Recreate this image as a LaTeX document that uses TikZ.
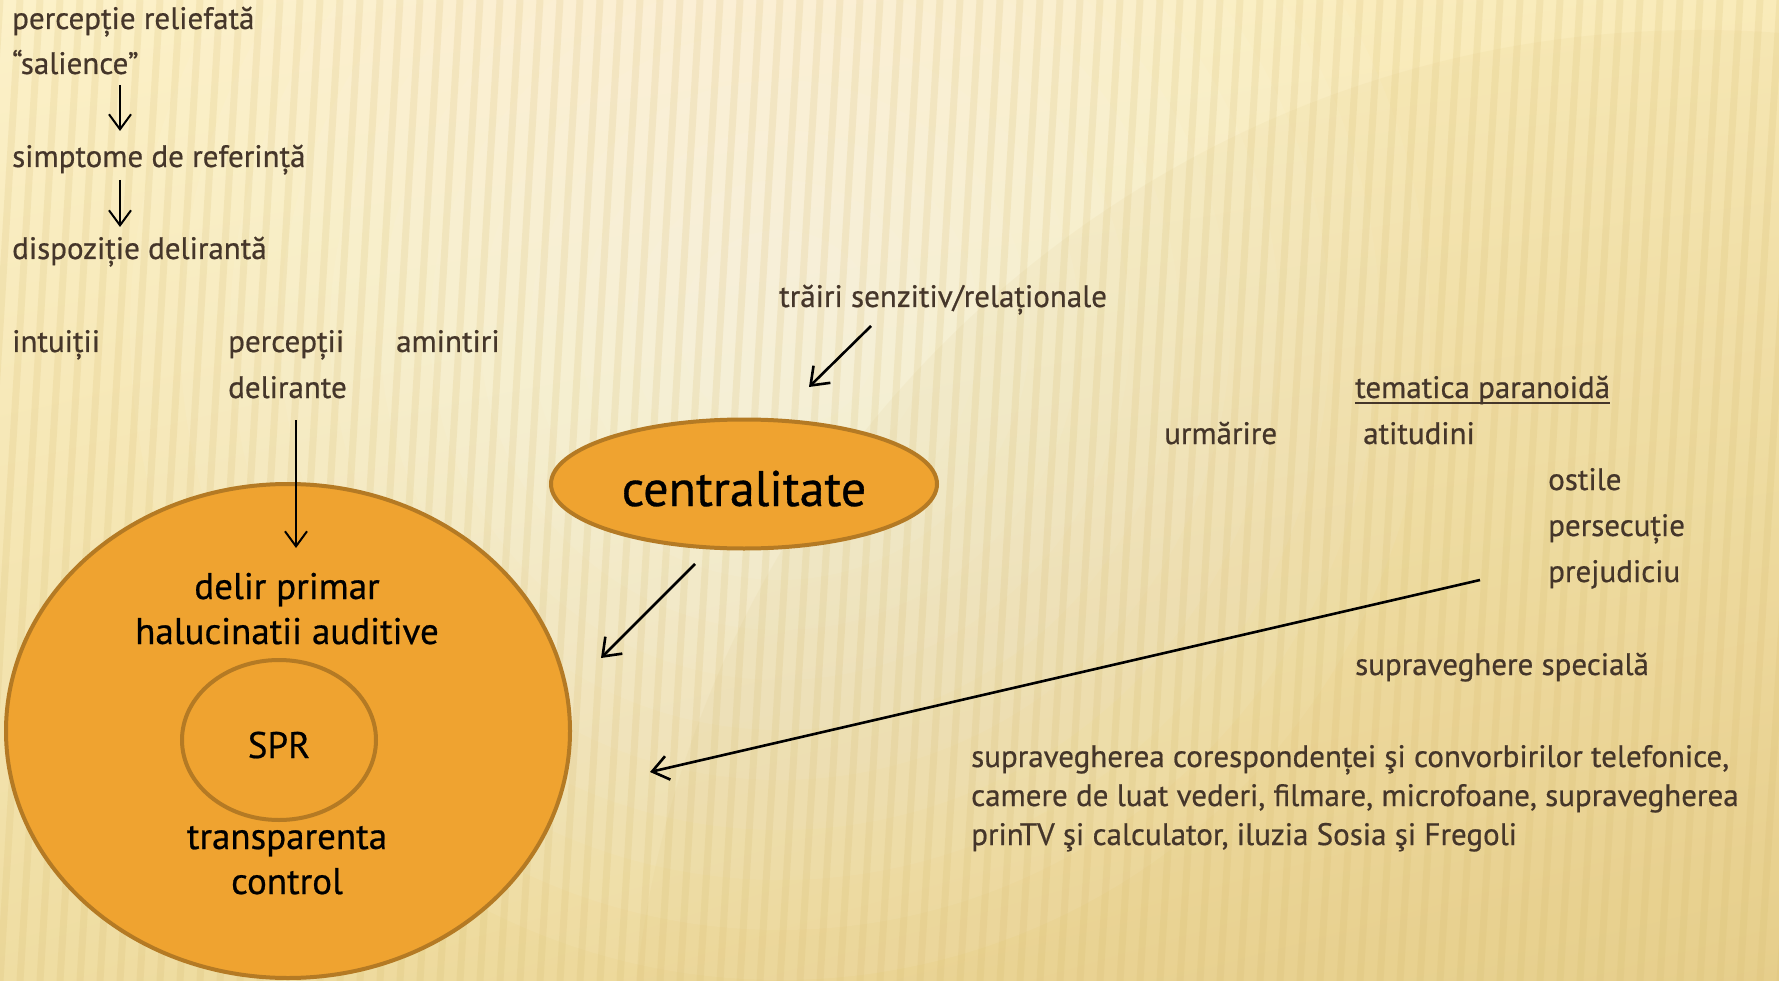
\documentclass[tikz,border=0pt]{standalone}
\usepackage{fontspec}
\setmainfont{PT Sans}[FakeBold=0.6]
\usetikzlibrary{arrows.meta,shapes.geometric,shadings}
\definecolor{txt}{HTML}{45362A}
\definecolor{orfill}{HTML}{EFA330}
\definecolor{ordraw}{HTML}{B47A24}
\definecolor{bgUL}{HTML}{FCF1C9}
\definecolor{bgUR}{HTML}{F9EBBA}
\definecolor{bgLL}{HTML}{EFDDA2}
\definecolor{bgLR}{HTML}{E8D08E}
\definecolor{stripe}{HTML}{D6BA6C}
\tikzset{
  lbl/.style={anchor=base west, inner sep=0pt, text=txt, font=\fontsize{31}{37}\selectfont},
  inl/.style={anchor=base, inner sep=0pt, text=black, font=\fontsize{37}{45}\selectfont},
  orshape/.style={ellipse, draw=ordraw, fill=orfill, line width=4pt, inner sep=0pt},
  arrS/.style={line width=2pt, -{Straight Barb[length=15pt,width=22pt,line width=2pt]}},
  arrL/.style={line width=2.6pt, -{Straight Barb[length=16pt,width=24pt,line width=2.6pt]}}
}
\begin{document}
\begin{tikzpicture}[x=1pt,y=-1pt]
\useasboundingbox (0,0) rectangle (1779,981);
% background
\shade[upper left=bgUL, upper right=bgUR, lower left=bgLL, lower right=bgLR] (0,0) rectangle (1779,981);
\foreach \r in {650,600,...,100}{
  \fill[white, opacity=0.06] (780,330) circle[radius=\r];
}
\fill[stripe, opacity=0.08] (1700,1100) circle[radius=1070];
\begin{scope}
\clip (0,0) rectangle (1779,981);
\foreach \i in {-120,-100,...,1800}{
  \draw[stripe, opacity=0.18, line width=7pt] (\i+60,0) -- (\i,981);
}
\end{scope}
% left column
\node[lbl] (n1) at (12,29) {percepție reliefată};
\node[lbl] (n2) at (12,74) {“salience”};
\node[lbl] (n3) at (12,167) {simptome de referință};
\node[lbl] (n4) at (12,259) {dispoziție delirantă};
\node[lbl] (n5) at (12,352) {intuiții};
\node[lbl] (n6) at (228,352) {percepții};
\node[lbl] (n6b) at (228,398) {delirante};
\node[lbl] (n7) at (396,352) {amintiri};
\coordinate (a1s) at (120,85);
\coordinate (a1e) at (120,131);
\coordinate (a2s) at (120,180);
\coordinate (a2e) at (120,227);
\draw[arrS] (a1s) -- (a1e);
\draw[arrS] (a2s) -- (a2e);
% circles
\node[orshape, minimum width=564pt, minimum height=494pt] (big) at (288,731) {};
\node[orshape, minimum width=194pt, minimum height=160pt] (spr) at (279,740) {};
\node[inl] (d1) at (287,599) {delir primar};
\node[inl] (d2) at (287,644) {halucinatii auditive};
\node[inl] at (279,758) {SPR};
\node[inl] (t1) at (287,849) {transparenta};
\node[inl] (t2) at (287,894) {control};
\coordinate (ads) at (296,420);
\coordinate (ade) at (296,548);
\draw[arrS] (ads) -- (ade);
% centralitate
\node[orshape, minimum width=386pt, minimum height=129pt] (cen) at (744,484) {};
\node[anchor=base, inner sep=0pt, font=\fontsize{50}{60}\selectfont] (cent) at (744,506) {centralitate};
\node[lbl] (tr) at (779,307) {trăiri senzitiv/relaționale};
\coordinate (ats) at (871,326);
\coordinate (ate) at (809,387);
\draw[arrL] (ats) -- (ate);
\coordinate (acs) at (695,564);
\coordinate (ace) at (601,658);
\draw[arrL] (acs) -- (ace);
% right side
\node[lbl] (tem) at (1355,398) {tematica paranoidă};
\draw[txt, line width=2pt] ([yshift=-5pt]tem.base west) -- ([yshift=-5pt]tem.base east);
\node[lbl] (urm) at (1164,444) {urmărire};
\node[lbl] (ati) at (1363,444) {atitudini};
\node[lbl] (ost) at (1548,490) {ostile};
\node[lbl] (per) at (1548,536) {persecuție};
\node[lbl] (pre) at (1548,582) {prejudiciu};
\node[lbl] (sup) at (1355,675) {supraveghere specială};
\node[lbl] (p1) at (971,767) {supravegherea corespondenței şi convorbirilor telefonice,};
\node[lbl] (p2) at (971,806) {camere de luat vederi, filmare, microfoane, supravegherea};
\node[lbl] (p3) at (971,845) {prinTV şi calculator, iluzia Sosia şi Fregoli};
\coordinate (als) at (1480,580);
\coordinate (ale) at (650,772);
\draw[arrL] (als) -- (ale);
\end{tikzpicture}
\end{document}
